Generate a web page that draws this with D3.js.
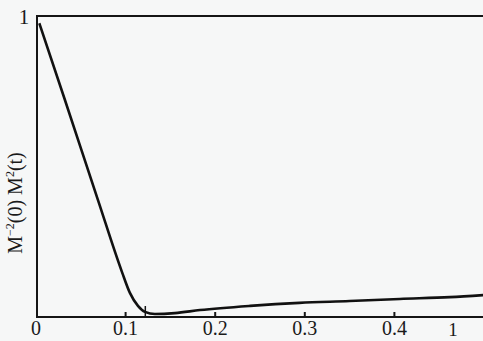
<!DOCTYPE html>
<html>
<head>
<meta charset="utf-8">
<script src="https://cdn.jsdelivr.net/npm/d3@7"></script>
<style>
  body { margin: 0; background: #f6f7f7; }
  text { font-family: "Liberation Serif", "DejaVu Serif", serif; fill: #1a1a1a; }
</style>
</head>
<body>
<div id="chart"></div>
<script>
// values
const tValues = [0.0037, 0.0323, 0.0691, 0.0959, 0.1048, 0.1138, 0.1216, 0.1327, 0.155, 0.183, 0.239, 0.294, 0.35, 0.406, 0.462, 0.5];
const mRatio = [0.976, 0.721, 0.389, 0.15, 0.08, 0.037, 0.017, 0.01, 0.013, 0.023, 0.037, 0.047, 0.053, 0.06, 0.066, 0.073];
const xTicks = [0, 0.1, 0.2, 0.3, 0.4];
const xTickLabels = ['0', '0.1', '0.2', '0.3', '0.4'];
const yTicks = [1];
const markT = 0.122;

const size = { width: 483, height: 341 };
const margin = { left: 37, top: 16, right: 0, bottom: 24 };

const svg = d3.select('#chart')
  .append('svg')
  .attr('width', size.width)
  .attr('height', size.height);

const x = d3.scaleLinear()
  .domain([0, 0.5])
  .range([36, 484]);

const y = d3.scaleLinear()
  .domain([0, 1])
  .range([size.height - margin.bottom, margin.top]);

svg.append('clipPath').attr('id', 'plot')
  .append('rect')
  .attr('x', margin.left).attr('y', margin.top)
  .attr('width', size.width - margin.left)
  .attr('height', y(0) - margin.top);

// frame: top, left, bottom
svg.append('path')
  .attr('d', `M${size.width},${margin.top}H${margin.left}V${y(0)}H${size.width}`)
  .attr('fill', 'none')
  .attr('stroke', '#151515')
  .attr('stroke-width', 2);

// inward tick marks
svg.selectAll('.xtick')
  .data(xTicks.slice(1))
  .enter()
  .append('line')
  .attr('x1', (d) => x(d)).attr('x2', (d) => x(d))
  .attr('y1', y(0)).attr('y2', y(0) - 5)
  .attr('stroke', '#151515')
  .attr('stroke-width', 2);

svg.append('line')
  .attr('x1', x(markT)).attr('x2', x(markT))
  .attr('y1', y(0)).attr('y2', y(0) - 11)
  .attr('stroke', '#151515')
  .attr('stroke-width', 1.5);

svg.selectAll('.xlabel')
  .data(xTicks)
  .enter()
  .append('text')
  .attr('x', (d) => x(d))
  .attr('y', 335)
  .attr('text-anchor', 'middle')
  .attr('font-size', 20)
  .text((d, i) => xTickLabels[i]);

svg.append('text')
  .attr('x', 453)
  .attr('y', 336)
  .attr('text-anchor', 'middle')
  .attr('font-size', 19)
  .text('1');

svg.selectAll('.ylabel')
  .data(yTicks)
  .enter()
  .append('text')
  .attr('x', 24)
  .attr('y', (d) => y(d) + 8)
  .attr('text-anchor', 'middle')
  .attr('font-size', 21)
  .text((d) => d);

const yTitle = svg.append('text')
  .attr('transform', 'translate(22,203) rotate(-90)')
  .attr('text-anchor', 'middle')
  .attr('font-size', 20);
yTitle.append('tspan').text('M');
yTitle.append('tspan').attr('font-size', 12).attr('dy', -8).text('−2');
yTitle.append('tspan').attr('dy', 8).text('(0) M');
yTitle.append('tspan').attr('font-size', 12).attr('dy', -8).text('2');
yTitle.append('tspan').attr('dy', 8).text('(t)');

const line = d3.line()
  .x((d, i) => x(tValues[i]))
  .y((d) => y(d))
  .curve(d3.curveMonotoneX);

svg.append('path')
  .datum(mRatio)
  .attr('clip-path', 'url(#plot)')
  .attr('d', line)
  .attr('fill', 'none')
  .attr('stroke', '#111')
  .attr('stroke-width', 2.6);
</script>
</body>
</html>
